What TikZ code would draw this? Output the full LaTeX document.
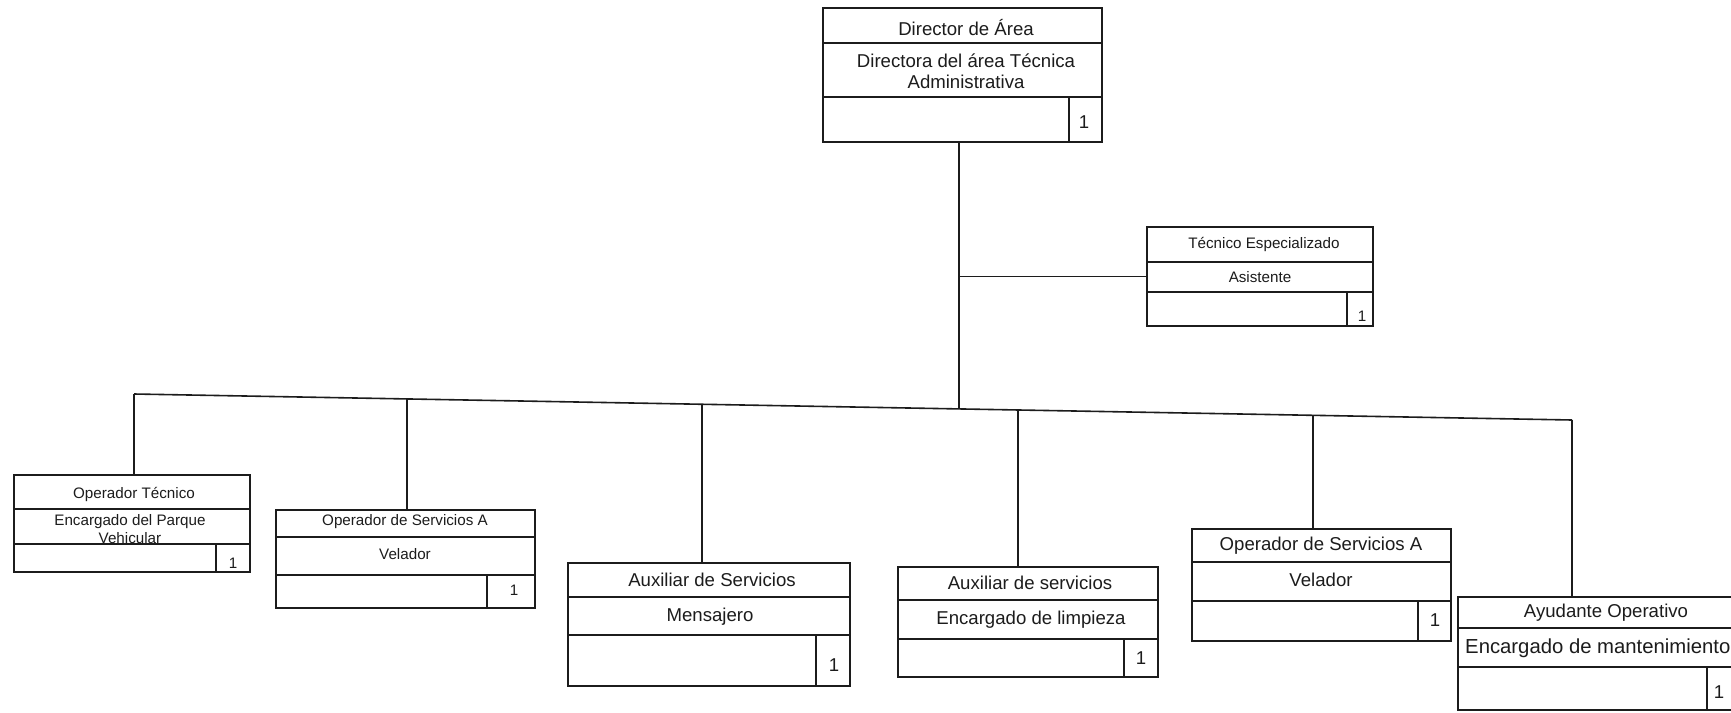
\documentclass[tikz,border=0pt]{standalone}
\usepackage{fontspec}
\setmainfont{Liberation Sans}
\newcommand{\bigf}{\fontsize{18.6}{21.5}\selectfont}
\newcommand{\smallf}{\fontsize{15.2}{18}\selectfont}
\definecolor{ink}{HTML}{1C1C1C}
\tikzset{
  frame/.style={draw=ink, line width=1.8pt, inner sep=0pt, outer sep=0pt},
  ln/.style={draw=ink, line width=1.8pt},
  conn/.style={draw=ink, line width=1.6pt},
  tb/.style={text=ink, font=\bigf, inner sep=0pt},
  ts/.style={text=ink, font=\smallf, inner sep=0pt},
}
% name, x1, y1, x2, y2, divider1, divider2, cell x
\newcommand{\orgbox}[8]{%
  \node[frame, minimum width={#4-#2}, minimum height={#5-#3}] (#1) at ({(#2+#4)/2},{(#3+#5)/2}) {};
  \draw[ln] (#2,#6) -- (#4,#6);
  \draw[ln] (#2,#7) -- (#4,#7);
  \draw[ln] (#8,#7) -- (#8,#5);
}
\begin{document}
\begin{tikzpicture}[x=1pt,y=-1pt]
\useasboundingbox (0,0) rectangle (1731,712);
\fill[white] (0,0) rectangle (1731,712);

% Director
\orgbox{dir}{823}{8}{1102}{142}{43}{97}{1069}
\node[tb] (dirt) at (966,28) {Director de Área};
\node[tb, align=center] (dirs) at (966,71) {Directora del área Técnica\\Administrativa};
\node[tb] (dirn) at (1084,122) {1};

% Tecnico Especializado
\orgbox{tec}{1147}{227}{1373}{326}{262}{292}{1347}
\node[ts] (tect) at (1264,244) {Técnico Especializado};
\node[ts] (tecs) at (1260,277) {Asistente};
\node[ts] (tecn) at (1362,316) {1};

% Operador Tecnico
\orgbox{opt}{14}{475}{250}{572}{509}{544}{216}
\node[ts] (optt) at (134,494) {Operador Técnico};
\node[ts, align=center] (opts) at (130,529) {Encargado del Parque\\Vehicular};
\node[ts] (optn) at (233,563) {1};

% Operador de Servicios A (left)
\orgbox{osa}{276}{510}{535}{608}{537}{575}{487}
\node[ts] (osat) at (405,522) {Operador de Servicios A};
\node[ts] (osas) at (405,554) {Velador};
\node[ts] (osan) at (514,590) {1};

% Auxiliar de Servicios
\orgbox{aux}{568}{563}{850}{686}{597}{635}{816}
\node[tb] (auxt) at (712,580) {Auxiliar de Servicios};
\node[tb] (auxs) at (710,617) {Mensajero};
\node[tb] (auxn) at (834,665) {1};

% Auxiliar de servicios
\orgbox{axl}{898}{567}{1158}{677}{600}{639}{1124}
\node[tb] (axlt) at (1030,583) {Auxiliar de servicios};
\node[tb] (axls) at (1031,620) {Encargado de limpieza};
\node[tb] (axln) at (1141,658) {1};

% Operador de Servicios A (right)
\orgbox{osb}{1192}{529}{1451}{641}{562}{601}{1418}
\node[tb] (osbt) at (1321,546) {Operador de Servicios A};
\node[tb] (osbs) at (1321,580) {Velador};
\node[tb] (osbn) at (1435,620) {1};

% Ayudante Operativo
\orgbox{ayu}{1458}{597}{1740}{710}{628}{667}{1707}
\node[tb] (ayut) at (1606,613) {Ayudante Operativo};
\node[tb, anchor=west, font=\fontsize{20.3}{23}\selectfont] (ayus) at (1465,648) {Encargado de mantenimiento};
\node[tb] (ayun) at (1719,692) {1};

% connectors
\coordinate (b1) at (134,394);
\coordinate (b2) at (407,398.9);
\coordinate (b3) at (702,404.3);
\coordinate (b0) at (959,409);
\coordinate (b4) at (1018,410);
\coordinate (b5) at (1313,415.3);
\coordinate (b6) at (1572,420);

\draw[conn] (b0 |- dir.south) -- (b0);
\draw[conn] (b0 |- tec.west) -- (tec.west);
\draw[conn] (b1) -- (b6);
\draw[conn] (b1) -- (b1 |- opt.north);
\draw[conn] (b2) -- (b2 |- osa.north);
\draw[conn] (b3) -- (b3 |- aux.north);
\draw[conn] (b4) -- (b4 |- axl.north);
\draw[conn] (b5) -- (b5 |- osb.north);
\draw[conn] (b6) -- (b6 |- ayu.north);
\end{tikzpicture}
\end{document}
